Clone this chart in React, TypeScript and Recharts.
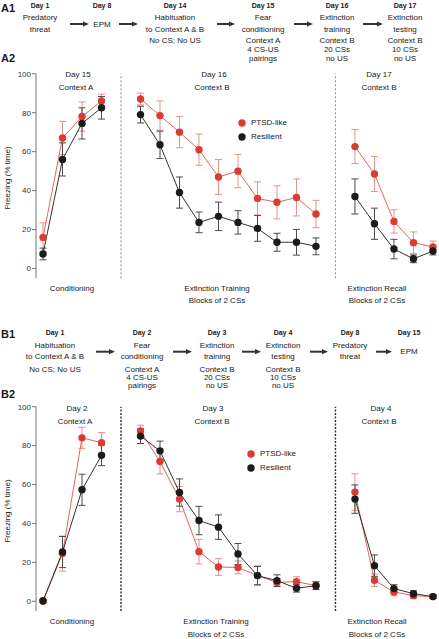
import React from 'react';
import { LineChart, Line, XAxis, YAxis, ErrorBar, ReferenceLine, Legend } from 'recharts';

// ---------- Data ----------
// Panel A2
const A2_COND_RED = [16, 67, 78, 86];
const A2_COND_RED_SEM = [7.5, 8.5, 7.5, 3.5];
const A2_COND_BLACK = [7.5, 56, 74.5, 82.5];
const A2_COND_BLACK_SEM = [3, 8.5, 8, 5.8];
const A2_TRAIN_RED = [87, 78.5, 70, 61, 47, 50, 36, 34, 36.5, 28];
const A2_TRAIN_RED_SEM = [3, 7.5, 8, 8, 9, 8.5, 8.5, 8.5, 9.5, 7];
const A2_TRAIN_BLACK = [79, 63.5, 39, 23.7, 26.8, 23.7, 20.6, 13.5, 13.5, 11.4];
const A2_TRAIN_BLACK_SEM = [4.3, 7, 8, 5.3, 7.3, 6, 6.6, 4.6, 6.6, 4.3];
const A2_RECALL_RED = [62.6, 48.5, 24.2, 13.3, 11.1];
const A2_RECALL_RED_SEM = [8.7, 9, 6, 5.5, 3];
const A2_RECALL_BLACK = [37, 23, 10, 5, 9];
const A2_RECALL_BLACK_SEM = [9, 8, 5, 2, 2];

// Panel B2
const B2_COND_RED = [0, 24.5, 84, 81.5];
const B2_COND_RED_SEM = [0.5, 9, 5.4, 5.2];
const B2_COND_BLACK = [0.3, 25.3, 57.3, 75];
const B2_COND_BLACK_SEM = [0.5, 8, 8, 5.3];
const B2_TRAIN_RED = [87.5, 71.8, 52.5, 25.5, 17.6, 17.4, 13.2, 9.7, 10.1, 8];
const B2_TRAIN_RED_SEM = [3, 6.4, 6.5, 6.3, 4.3, 3.3, 5, 2, 2.5, 2];
const B2_TRAIN_BLACK = [84.9, 77.3, 55.9, 41.5, 38.1, 24.3, 13.2, 10.6, 6.7, 8];
const B2_TRAIN_BLACK_SEM = [3.8, 5, 7, 7.3, 6.3, 5.4, 4.7, 3, 2, 2];
const B2_RECALL_RED = [56.1, 10.8, 4.8, 2.9, 2.4];
const B2_RECALL_RED_SEM = [9.4, 3.2, 2, 1.5, 1];
const B2_RECALL_BLACK = [52.5, 18.3, 6.5, 3.9, 2.4];
const B2_RECALL_BLACK_SEM = [7.3, 5.5, 2, 1.5, 1];

const Y_TICKS = [0, 20, 40, 60, 80, 100];
const SERIES_NAMES = ['PTSD-like', 'Resilient'];

// Flow diagrams
const A1_STEPS = [
  { day: 'Day 1', lines: ['Predatory', 'threat'] },
  { day: 'Day 8', lines: ['EPM'] },
  { day: 'Day 14', lines: ['Habituation', 'to Context A & B', 'No CS; No US'] },
  { day: 'Day 15', lines: ['Fear', 'conditioning', 'Context A', '4 CS-US', 'pairings'] },
  { day: 'Day 16', lines: ['Extinction', 'training', 'Context B', '20 CSs', 'no US'] },
  { day: 'Day 17', lines: ['Extinction', 'testing', 'Context B', '10 CSs', 'no US'] },
];
const B1_STEPS = [
  { day: 'Day 1', lines: ['Habituation', 'to Context A & B', 'No CS; No US'] },
  { day: 'Day 2', lines: ['Fear', 'conditioning', 'Context A', '4 CS-US', 'pairings'] },
  { day: 'Day 3', lines: ['Extinction', 'training', 'Context B', '20 CSs', 'no US'] },
  { day: 'Day 4', lines: ['Extinction', 'testing', 'Context B', '10 CSs', 'no US'] },
  { day: 'Day 8', lines: ['Predatory', 'threat'] },
  { day: 'Day 15', lines: ['EPM'] },
];
const A2_HEADERS = [['Day 15', 'Context A'], ['Day 16', 'Context B'], ['Day 17', 'Context B']];
const B2_HEADERS = [['Day 2', 'Context A'], ['Day 3', 'Context B'], ['Day 4', 'Context B']];
const PHASE_LABELS = [['Conditioning'], ['Extinction Training', 'Blocks of 2 CSs'], ['Extinction Recall', 'Blocks of 2 CSs']];

// ---------- Styling / layout ----------
const FONT = '"Liberation Sans", Arial, Helvetica, sans-serif';
const RED = '#da3c33';
const RED_ERR = '#e8918b';
const BLACK = '#1b1b1b';
const BLACK_ERR = '#4a4a4a';
const AXIS = '#777';

function buildRows(
  cr: number[], crs: number[], cb: number[], cbs: number[],
  tr: number[], trs: number[], tb: number[], tbs: number[],
  rr: number[], rrs: number[], rb: number[], rbs: number[]
) {
  const rows: any[] = [];
  let i = 0;
  const push = (r: number | null, re: number | null, b: number | null, be: number | null) => {
    rows.push({ i, red: r, redErr: re, black: b, blackErr: be });
    i += 1;
  };
  cr.forEach((v, k) => push(v, crs[k], cb[k], cbs[k]));
  push(null, null, null, null);
  tr.forEach((v, k) => push(v, trs[k], tb[k], tbs[k]));
  push(null, null, null, null);
  rr.forEach((v, k) => push(v, rrs[k], rb[k], rbs[k]));
  return rows;
}

const A2_ROWS = buildRows(
  A2_COND_RED, A2_COND_RED_SEM, A2_COND_BLACK, A2_COND_BLACK_SEM,
  A2_TRAIN_RED, A2_TRAIN_RED_SEM, A2_TRAIN_BLACK, A2_TRAIN_BLACK_SEM,
  A2_RECALL_RED, A2_RECALL_RED_SEM, A2_RECALL_BLACK, A2_RECALL_BLACK_SEM
);
const B2_ROWS = buildRows(
  B2_COND_RED, B2_COND_RED_SEM, B2_COND_BLACK, B2_COND_BLACK_SEM,
  B2_TRAIN_RED, B2_TRAIN_RED_SEM, B2_TRAIN_BLACK, B2_TRAIN_BLACK_SEM,
  B2_RECALL_RED, B2_RECALL_RED_SEM, B2_RECALL_BLACK, B2_RECALL_BLACK_SEM
);

const LegendBox = () => (
  <div style={{ fontFamily: FONT, fontSize: 8, color: '#222', lineHeight: '14px' }}>
    {SERIES_NAMES.map((n, k) => (
      <div key={n} style={{ display: 'flex', alignItems: 'center', height: 14 }}>
        <svg width={8} height={8} style={{ marginRight: 5 }}>
          <circle cx={4} cy={4} r={3.7} fill={k === 0 ? RED : BLACK} />
        </svg>
        <span>{n}</span>
      </div>
    ))}
  </div>
);

function Panel({ rows, top, height, marginTop, marginBottom, dividerStyle, legendPos }: any) {
  return (
    <div style={{ position: 'absolute', left: 0, top, width: 439, height }}>
      <LineChart
        width={439}
        height={height}
        data={rows}
        margin={{ top: marginTop, right: 0, bottom: marginBottom, left: 0 }}
      >
        <XAxis
          type="number"
          dataKey="i"
          domain={[-0.36, 20.31]}
          allowDataOverflow
          tick={false}
          tickLine={false}
          height={0}
          stroke={AXIS}
        />
        <YAxis
          type="number"
          domain={[-5, 100]}
          allowDataOverflow
          ticks={Y_TICKS}
          width={36}
          tickSize={4}
          tickMargin={1}
          stroke={AXIS}
          tick={{ fontSize: 8, fill: '#333', fontFamily: FONT }}
        />
        <ReferenceLine x={4} {...dividerStyle} />
        <ReferenceLine x={15} {...dividerStyle} />
        <Legend
          layout="vertical"
          align="center"
          verticalAlign="middle"
          content={<LegendBox />}
          wrapperStyle={{ left: legendPos[0], top: legendPos[1], width: 70 }}
        />
        <Line
          name={SERIES_NAMES[0]}
          dataKey="red"
          stroke={RED}
          strokeWidth={0.8}
          connectNulls={false}
          dot={{ r: 3.7, fill: RED, stroke: RED, strokeWidth: 0 }}
          activeDot={false}
          isAnimationActive={false}
        >
          <ErrorBar dataKey="redErr" direction="y" width={3.5} stroke={RED_ERR} strokeWidth={1} />
        </Line>
        <Line
          name={SERIES_NAMES[1]}
          dataKey="black"
          stroke={BLACK}
          strokeWidth={0.9}
          connectNulls={false}
          dot={{ r: 3.7, fill: BLACK, stroke: BLACK, strokeWidth: 0 }}
          activeDot={false}
          isAnimationActive={false}
        >
          <ErrorBar dataKey="blackErr" direction="y" width={3.5} stroke={BLACK_ERR} strokeWidth={1} />
        </Line>
      </LineChart>
    </div>
  );
}

const T = ({ x, y, children, size = 8, bold = false, anchor = 'middle' }: any) => (
  <text
    x={x}
    y={y}
    fontSize={size}
    fontWeight={bold ? 'bold' : 'normal'}
    textAnchor={anchor}
    dominantBaseline="central"
    fill="#1a1a1a"
    fontFamily={FONT}
  >
    {children}
  </text>
);

const Arrow = ({ x1, x2, y }: any) => (
  <g>
    <line x1={x1} y1={y} x2={x2 - 5} y2={y} stroke="#333" strokeWidth={2} />
    <polygon points={`${x2 - 6},${y - 2.6} ${x2},${y} ${x2 - 6},${y + 2.6}`} fill="#333" />
  </g>
);

function Flow({ steps, centers, dayY, lineYs, arrows, arrowY }: any) {
  return (
    <g>
      {steps.map((s: any, k: number) => (
        <g key={k}>
          <T x={centers[k]} y={dayY} size={7} bold>{s.day}</T>
          {s.lines.length === 1 ? (
            <T x={centers[k]} y={arrowY}>{s.lines[0]}</T>
          ) : (
            s.lines.map((ln: string, j: number) => (
              <T key={j} x={centers[k]} y={lineYs[j]}>{ln}</T>
            ))
          )}
        </g>
      ))}
      {arrows.map((a: number[], k: number) => (
        <Arrow key={k} x1={a[0]} x2={a[1]} y={arrowY} />
      ))}
    </g>
  );
}

export default function App() {
  return (
    <div style={{ position: 'absolute', left: 0, top: 0, width: 439, height: 639, background: '#fff', overflow: 'hidden' }}>
      <Panel
        rows={A2_ROWS}
        top={60}
        height={250}
        marginTop={13.7}
        marginBottom={31.7}
        dividerStyle={{ stroke: '#8a8a8a', strokeDasharray: '2 2', strokeWidth: 1 }}
        legendPos={[238, 56]}
      />
      <Panel
        rows={B2_ROWS}
        top={393}
        height={246}
        marginTop={13.7}
        marginBottom={28}
        dividerStyle={{ stroke: '#2a2a2a', strokeDasharray: '2 1.5', strokeWidth: 1.4 }}
        legendPos={[247, 54]}
      />
      <svg width={439} height={639} style={{ position: 'absolute', left: 0, top: 0, pointerEvents: 'none' }}>
        {/* Panel labels */}
        <T x={1} y={7.5} size={11} bold anchor="start">A1</T>
        <T x={1} y={57.5} size={11} bold anchor="start">A2</T>
        <T x={1} y={334} size={11} bold anchor="start">B1</T>
        <T x={1} y={394} size={11} bold anchor="start">B2</T>

        <Flow
          steps={A1_STEPS}
          centers={[40, 102, 175, 263, 337, 405]}
          dayY={5.7}
          lineYs={[17.5, 29, 40.7, 49.3, 58.3]}
          arrows={[[70, 89], [119, 138], [217, 235], [294, 313], [363, 383]]}
          arrowY={24}
        />
        <Flow
          steps={B1_STEPS}
          centers={[55, 142, 217, 283, 350, 409]}
          dayY={332.7}
          lineYs={[345.5, 356.8, 369, 377.5, 385.5]}
          arrows={[[96, 115], [173, 192], [242, 261], [310, 328], [376, 392]]}
          arrowY={351.7}
        />

        {/* A2 headers */}
        {A2_HEADERS.map((h, k) => (
          <g key={'a' + k}>
            <T x={[78, 214, 379][k]} y={74}>{h[0]}</T>
            <T x={[76, 212, 379][k]} y={87}>{h[1]}</T>
          </g>
        ))}
        {B2_HEADERS.map((h, k) => (
          <g key={'b' + k}>
            <T x={[77, 213, 381][k]} y={408}>{h[0]}</T>
            <T x={[75, 212, 379][k]} y={421.7}>{h[1]}</T>
          </g>
        ))}
        {/* phase labels */}
        {PHASE_LABELS.map((p, k) => (
          <g key={'pa' + k}>
            {p.map((ln, j) => (
              <T key={j} x={[72, 217, 377][k]} y={288 + j * 12}>{ln}</T>
            ))}
          </g>
        ))}
        {PHASE_LABELS.map((p, k) => (
          <g key={'pb' + k}>
            {p.map((ln, j) => (
              <T key={j} x={[72, 216, 377][k]} y={621.7 + j * 12.3}>{ln}</T>
            ))}
          </g>
        ))}
        {/* Y axis labels */}
        <g transform="translate(7.5,178) rotate(-90)">
          <T x={0} y={0}>Freezing (% time)</T>
        </g>
        <g transform="translate(7.5,511) rotate(-90)">
          <T x={0} y={0}>Freezing (% time)</T>
        </g>
      </svg>
    </div>
  );
}
